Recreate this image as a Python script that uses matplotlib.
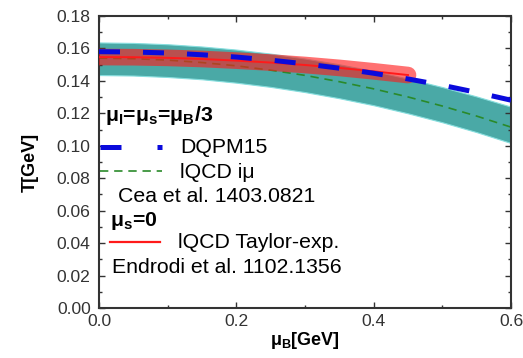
import matplotlib
matplotlib.use('Agg')
import matplotlib.pyplot as plt
from matplotlib.lines import Line2D
from matplotlib.ticker import MultipleLocator

plt.rcParams['font.family'] = ['Liberation Sans', 'DejaVu Sans']
plt.rcParams['mathtext.fontset'] = 'custom'
plt.rcParams['mathtext.rm'] = 'Liberation Sans'
plt.rcParams['mathtext.it'] = 'Liberation Sans:italic'
plt.rcParams['mathtext.bf'] = 'Liberation Sans:bold'

# data (mu_B in GeV, T in GeV)
mu = [0.0, 0.05, 0.1, 0.15, 0.2, 0.25, 0.3, 0.35, 0.4, 0.45, 0.5, 0.55, 0.6]
T_dqpm = [0.1580, 0.1578, 0.1572, 0.1561, 0.1547, 0.1528, 0.1505, 0.1478,
          0.1447, 0.1412, 0.1373, 0.1329, 0.1281]
T_imu = [0.1540, 0.1537, 0.1528, 0.1513, 0.1493, 0.1466, 0.1434, 0.1395,
         0.1351, 0.1301, 0.1245, 0.1183, 0.1115]
T_imu_hi = [0.1637, 0.1634, 0.1626, 0.1612, 0.1593, 0.1568, 0.1538, 0.1502,
            0.1461, 0.1414, 0.1362, 0.1304, 0.1241]
T_imu_lo = [0.1436, 0.1433, 0.1424, 0.1410, 0.1389, 0.1363, 0.1331, 0.1293,
            0.1250, 0.1200, 0.1145, 0.1084, 0.1017]

mu_taylor = [0.0, 0.05, 0.1, 0.15, 0.2, 0.25, 0.3, 0.35, 0.4, 0.45]
T_taylor = [0.1547, 0.1546, 0.1542, 0.1535, 0.1525, 0.1513, 0.1498, 0.1480,
            0.1459, 0.1436]

teal = '#4aa9a6'
blue = '#0a0adc'
green = '#2a8a2a'
red = '#ff1a1a'

fig = plt.figure(figsize=(5.23, 3.58), dpi=100)
ax = fig.add_axes([99/523, 1-308/358, 412/523, 292/358])

ax.fill_between(mu, T_imu_lo, T_imu_hi, facecolor=teal, edgecolor='#86dede',
                linewidth=0.8, zorder=1)
ax.plot(mu, T_imu, color=green, lw=1.2, dashes=(5, 3.5), zorder=2)
ax.plot(mu_taylor, T_taylor, color=red, lw=12, alpha=0.62,
        solid_capstyle='round', zorder=3)
ax.plot(mu_taylor, T_taylor, color=red, lw=1.4, zorder=4)
ax.plot(mu, T_dqpm, color=blue, lw=3.6, dashes=(4.2, 4.6), zorder=5)

ax.set_xlim(0, 0.6)
ax.set_ylim(0, 0.18)
ax.xaxis.set_major_locator(MultipleLocator(0.2))
ax.xaxis.set_minor_locator(MultipleLocator(0.1))
ax.yaxis.set_major_locator(MultipleLocator(0.02))
ax.yaxis.set_minor_locator(MultipleLocator(0.01))
ax.xaxis.set_major_formatter(plt.FormatStrFormatter('%.1f'))
ax.yaxis.set_major_formatter(plt.FormatStrFormatter('%.2f'))

for s in ax.spines.values():
    s.set_linewidth(1.5)
    s.set_color('#333333')
ax.tick_params(which='both', direction='in', top=True, right=True,
               color='#333333', width=1)
ax.tick_params(which='major', length=4.5, labelsize=12.6, labelcolor='#333333')
ax.tick_params(axis='y', which='major', pad=6)
ax.tick_params(axis='x', which='major', pad=4)
ax.tick_params(which='minor', length=2.5)

ax.set_xlabel('μ$_\\mathbf{B}$[GeV]', fontsize=13, fontweight='bold', labelpad=1)
ax.set_ylabel('T[GeV]', fontsize=13, fontweight='bold', labelpad=13)

# legend drawn by hand
fs = 15.3
tr = ax.transAxes
ax.text(0.015, 0.640, 'μ$_\\mathbf{I}$=μ$_\\mathbf{s}$=μ$_\\mathbf{B}$/3',
        transform=tr, fontsize=fs, fontweight='bold', va='baseline')
ax.add_line(Line2D([0.003, 0.153], [0.552, 0.552], transform=tr, color=blue,
                   lw=3.6, dashes=(4.2, 7.2)))
ax.text(0.197, 0.531, 'DQPM15', transform=tr, fontsize=fs, va='baseline')
ax.add_line(Line2D([0.003, 0.153], [0.469, 0.469], transform=tr, color=green,
                   lw=1.2, dashes=(5, 3.5)))
ax.text(0.197, 0.445, 'lQCD iμ', transform=tr, fontsize=fs, va='baseline')
ax.text(0.046, 0.363, 'Cea et al. 1403.0821', transform=tr, fontsize=fs,
        va='baseline')
ax.text(0.027, 0.281, 'μ$_\\mathbf{s}$=0', transform=tr, fontsize=fs,
        fontweight='bold', va='baseline')
ax.add_line(Line2D([0.027, 0.148], [0.227, 0.227], transform=tr, color=red,
                   lw=1.6))
ax.text(0.192, 0.205, 'lQCD Taylor-exp.', transform=tr, fontsize=fs,
        va='baseline')
ax.text(0.032, 0.120, 'Endrodi et al. 1102.1356', transform=tr, fontsize=fs,
        va='baseline')

fig.savefig('out.png', dpi=100)
